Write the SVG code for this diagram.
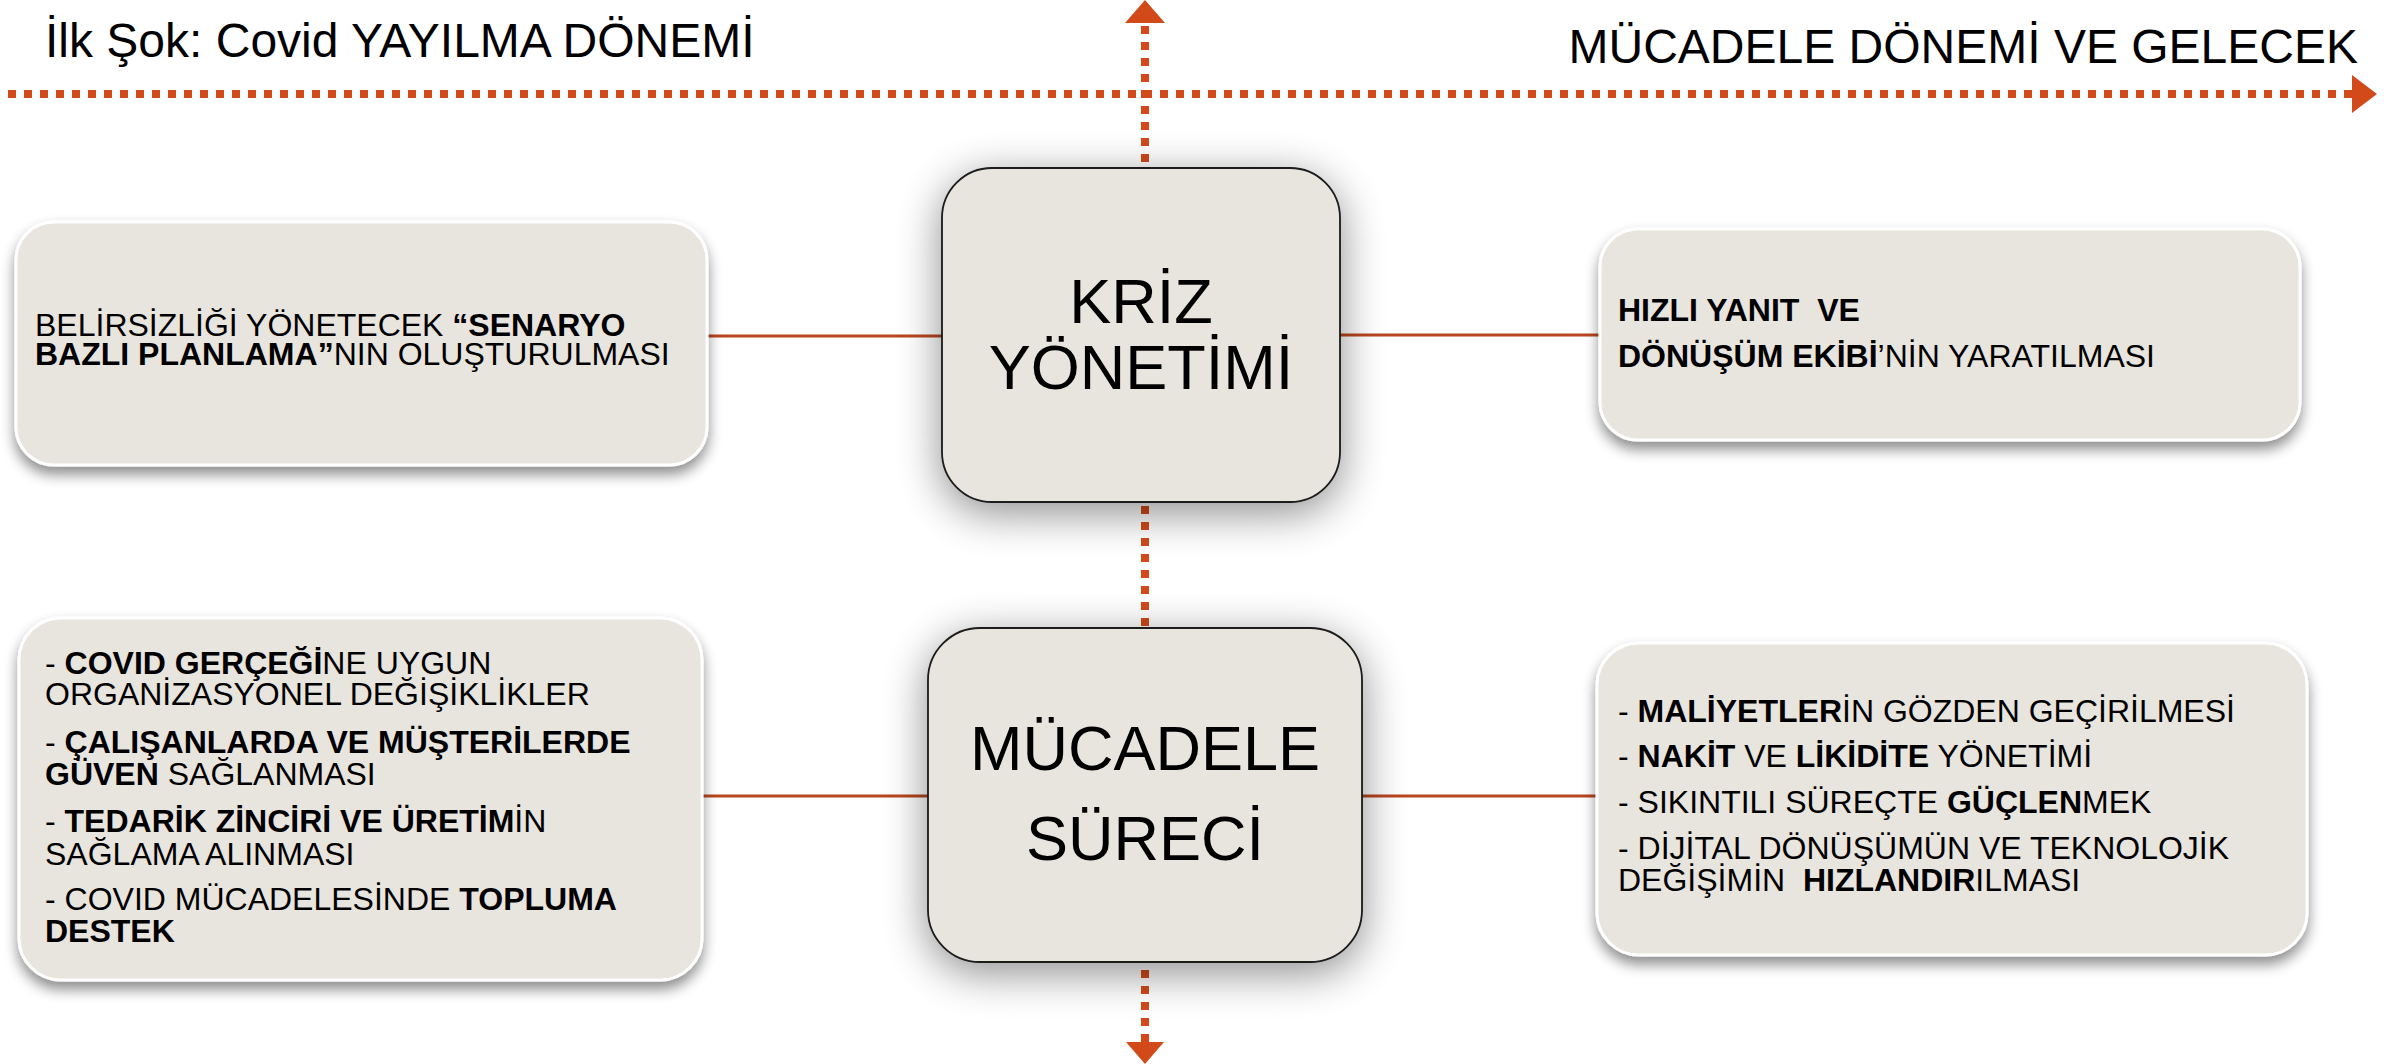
<svg xmlns="http://www.w3.org/2000/svg" width="2394" height="1064" viewBox="0 0 2394 1064">
<style>
  text { font-family: "Liberation Sans", Arial, sans-serif; fill: #000; }
  .title { font-size: 48px; }
  .big { font-size: 63px; text-anchor: middle; }
  .t { font-size: 32px; white-space: pre; }
  .b { font-weight: bold; }
  .side { fill: #E8E4DE; stroke: #FFFFFF; stroke-width: 3; filter: url(#sh1); }
  .core { fill: #E8E4DE; stroke: #1A1A1A; stroke-width: 1.8; filter: url(#sh2); }
  .dot { stroke: #D24A1A; stroke-width: 8; stroke-dasharray: 8 8; fill: none; }
  .link { stroke: #B8461E; stroke-width: 3; fill: none; }
  .head { fill: #D24A1A; }
</style>
<defs>
  <filter id="sh1" x="-10%" y="-15%" width="120%" height="140%">
    <feGaussianBlur in="SourceAlpha" stdDeviation="7"/>
    <feOffset dx="0" dy="8" result="o"/>
    <feComponentTransfer><feFuncA type="linear" slope="0.45"/></feComponentTransfer>
    <feMerge><feMergeNode/><feMergeNode in="SourceGraphic"/></feMerge>
  </filter>
  <filter id="sh2" x="-30%" y="-30%" width="160%" height="160%">
    <feGaussianBlur in="SourceAlpha" stdDeviation="22"/>
    <feOffset dx="0" dy="10" result="o"/>
    <feComponentTransfer><feFuncA type="linear" slope="0.45"/></feComponentTransfer>
    <feMerge><feMergeNode/><feMergeNode in="SourceGraphic"/></feMerge>
  </filter>
</defs>
<rect width="2394" height="1064" fill="#FFFFFF"/>

<g id="timeline">
  <text class="title" x="45" y="57">İlk Şok: Covid YAYILMA DÖNEMİ</text>
  <text class="title" x="2358" y="63" text-anchor="end">MÜCADELE DÖNEMİ VE GELECEK</text>
</g>

<g id="connectors">
  <line class="dot" x1="8" y1="94" x2="2352" y2="94"/>
  <polygon class="head" points="2352,75 2377,94 2352,113"/>
  <line class="dot" x1="1145" y1="26" x2="1145" y2="1042"/>
  <polygon class="head" points="1145,0 1125,23 1165,23"/>
  <polygon class="head" points="1126,1042 1164,1042 1145,1064"/>
  <line class="link" x1="707" y1="336" x2="942" y2="336"/>
  <line class="link" x1="1340" y1="335" x2="1600" y2="335"/>
  <line class="link" x1="702" y1="796" x2="928" y2="796"/>
  <line class="link" x1="1362" y1="796" x2="1597" y2="796"/>
</g>

<g id="kriz">
  <rect class="core" x="942" y="168" width="398" height="334" rx="50" ry="50"/>
  <text class="big"><tspan x="1141" y="323">KRİZ</tspan><tspan x="1141" y="389">YÖNETİMİ</tspan></text>
</g>

<g id="mucadele">
  <rect class="core" x="928" y="628" width="434" height="334" rx="52" ry="52"/>
  <text class="big"><tspan x="1145" y="770">MÜCADELE</tspan><tspan x="1145" y="860">SÜRECİ</tspan></text>
</g>

<g id="senaryo">
  <rect class="side" x="16" y="222" width="691" height="243" rx="38" ry="38"/>
  <text class="t"><tspan x="35" y="336">BELİRSİZLİĞİ YÖNETECEK </tspan><tspan class="b">“SENARYO</tspan><tspan class="b" x="35" y="365">BAZLI PLANLAMA”</tspan><tspan>NIN OLUŞTURULMASI</tspan></text>
</g>

<g id="ekip">
  <rect class="side" x="1600" y="229" width="700" height="211" rx="38" ry="38"/>
  <text class="t"><tspan class="b" x="1618" y="321">HIZLI YANIT  VE</tspan><tspan class="b" x="1618" y="367">DÖNÜŞÜM EKİBİ</tspan><tspan>’NİN YARATILMASI</tspan></text>
</g>

<g id="covid">
  <rect class="side" x="19" y="618" width="683" height="362" rx="42" ry="42"/>
  <text class="t"><tspan x="45" y="674">- </tspan><tspan class="b">COVID GERÇEĞİ</tspan><tspan>NE UYGUN</tspan><tspan x="45" y="705">ORGANİZASYONEL DEĞİŞİKLİKLER</tspan></text>
  <text class="t"><tspan x="45" y="753">- </tspan><tspan class="b">ÇALIŞANLARDA VE MÜŞTERİLERDE</tspan><tspan class="b" x="45" y="785">GÜVEN</tspan><tspan> SAĞLANMASI</tspan></text>
  <text class="t"><tspan x="45" y="832">- </tspan><tspan class="b">TEDARİK ZİNCİRİ VE ÜRETİM</tspan><tspan>İN</tspan><tspan x="45" y="865">SAĞLAMA ALINMASI</tspan></text>
  <text class="t"><tspan x="45" y="910">- COVID MÜCADELESİNDE </tspan><tspan class="b">TOPLUMA</tspan><tspan class="b" x="45" y="942">DESTEK</tspan></text>
</g>

<g id="maliyet">
  <rect class="side" x="1597" y="643" width="710" height="312" rx="42" ry="42"/>
  <text class="t"><tspan x="1618" y="722">- </tspan><tspan class="b">MALİYETLER</tspan><tspan>İN GÖZDEN GEÇİRİLMESİ</tspan></text>
  <text class="t"><tspan x="1618" y="767">- </tspan><tspan class="b">NAKİT</tspan><tspan> VE </tspan><tspan class="b">LİKİDİTE</tspan><tspan> YÖNETİMİ</tspan></text>
  <text class="t"><tspan x="1618" y="813">- SIKINTILI SÜREÇTE </tspan><tspan class="b">GÜÇLEN</tspan><tspan>MEK</tspan></text>
  <text class="t"><tspan x="1618" y="859">- DİJİTAL DÖNÜŞÜMÜN VE TEKNOLOJİK</tspan><tspan x="1618" y="891">DEĞİŞİMİN  </tspan><tspan class="b">HIZLANDIR</tspan><tspan>ILMASI</tspan></text>
</g>
</svg>
